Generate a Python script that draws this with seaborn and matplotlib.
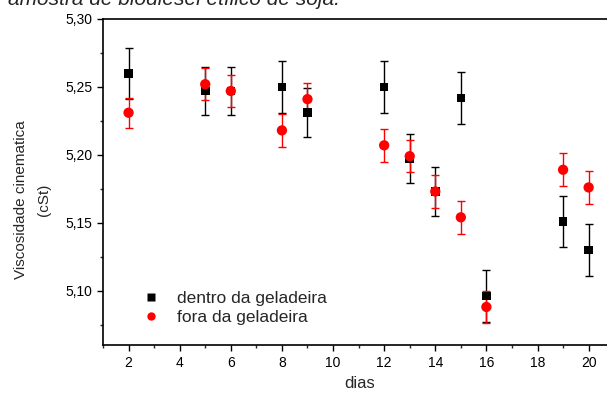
import pandas as pd
import numpy as np
import matplotlib
matplotlib.use('Agg')
import matplotlib.pyplot as plt
from matplotlib.ticker import MultipleLocator, FuncFormatter
import seaborn as sns

# dados
dias = [2, 5, 6, 8, 9, 12, 13, 14, 15, 16, 19, 20]
dentro = [5.260, 5.247, 5.247, 5.250, 5.231, 5.250, 5.197, 5.173, 5.242, 5.096, 5.151, 5.130]
dentro_err = [0.019, 0.018, 0.018, 0.019, 0.018, 0.019, 0.018, 0.018, 0.019, 0.019, 0.019, 0.019]
fora = [5.231, 5.252, 5.247, 5.218, 5.241, 5.207, 5.199, 5.173, 5.154, 5.088, 5.189, 5.176]
fora_err = [0.011, 0.012, 0.012, 0.012, 0.012, 0.012, 0.012, 0.012, 0.012, 0.012, 0.012, 0.012]

sns.set_style('ticks')
plt.rcParams['font.family'] = ['Liberation Sans', 'DejaVu Sans']

df = pd.DataFrame({'dias': dias * 2,
                   'visc': dentro + fora,
                   'grupo': ['dentro da geladeira'] * len(dias) + ['fora da geladeira'] * len(dias)})

fig = plt.figure(figsize=(6.07, 3.94), dpi=100)
ax = fig.add_axes([103 / 607, 49 / 394, 1 - 103 / 607, (345 - 19) / 394])

ax.errorbar(dias, dentro, yerr=dentro_err, fmt='none', ecolor='black', elinewidth=1, capsize=3, capthick=1, zorder=2)
ax.errorbar(dias, fora, yerr=fora_err, fmt='none', ecolor='red', elinewidth=1, capsize=3, capthick=1, zorder=3)
sns.scatterplot(data=df, x='dias', y='visc', hue='grupo', style='grupo',
                palette={'dentro da geladeira': 'black', 'fora da geladeira': 'red'},
                markers={'dentro da geladeira': 's', 'fora da geladeira': 'o'},
                s=40, edgecolor='none', ax=ax, zorder=4, legend=True)
ax.collections[-1].set_sizes([38] * len(dias) + [55] * len(dias))

ax.set_xlim(1, 1 + (607 - 103) / 25.56)
ax.set_ylim(5.06, 5.30)
ax.set_xticks([2, 4, 6, 8, 10, 12, 14, 16, 18, 20])
ax.xaxis.set_minor_locator(MultipleLocator(1))
ax.yaxis.set_major_locator(MultipleLocator(0.05))
ax.yaxis.set_minor_locator(MultipleLocator(0.025))
ax.yaxis.set_major_formatter(FuncFormatter(lambda v, p: f'{v:.2f}'.replace('.', ',')))
ax.tick_params(axis='both', which='major', length=4.3, width=1, labelsize=10, pad=3.5,
               direction='out', colors='black')
ax.tick_params(axis='both', which='minor', length=2.3, width=1, direction='out')
for s in ['left', 'bottom', 'top']:
    ax.spines[s].set_linewidth(1.2)
    ax.spines[s].set_color('black')
ax.spines['right'].set_visible(False)

ax.set_xlabel('dias', fontsize=12)
ax.xaxis.set_label_coords((360 - 103) / 504, -(376 - 345) / 326)
ax.set_ylabel('Viscosidade cinematica\n(cSt)', fontsize=11, linespacing=1.8)
ax.yaxis.set_label_coords(-(103 - 51) / 504, (345 - 200) / 326)

handles, labels = ax.get_legend_handles_labels()
leg = ax.legend(handles, labels, loc='upper left', bbox_to_anchor=(142 / 607, 1 - 291 / 394),
                bbox_transform=fig.transFigure, frameon=False, fontsize=12.5,
                handlelength=1.0, handletextpad=1.0, labelspacing=0.2,
                borderpad=0, borderaxespad=0)
for h in leg.legend_handles:
    if hasattr(h, 'set_markersize'):
        h.set_markersize(6)
    else:
        h.set_sizes([36])

fig.text(8 / 607, 1 - 5 / 394, 'amostra de biodiesel etílico de soja.', fontsize=15,
         style='italic', va='baseline', ha='left')

fig.savefig('out.png', dpi=100)
